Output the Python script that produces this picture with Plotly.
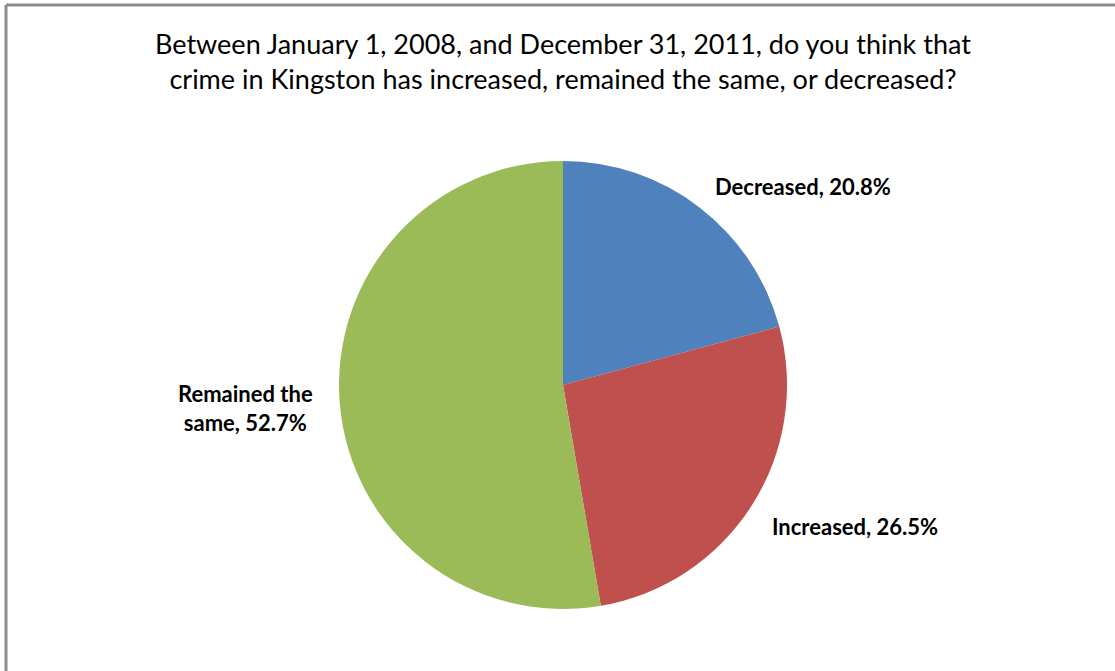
import plotly.graph_objects as go

# Survey responses
categories = ["Decreased", "Increased", "Remained the same"]
shares = [20.8, 26.5, 52.7]
colors = ["#4F81BD", "#C0504D", "#9BBB59"]

W, H = 1115, 671

fig = go.Figure(go.Pie(
    labels=categories,
    values=shares,
    sort=False,
    direction="clockwise",
    rotation=0,
    marker=dict(colors=colors, line=dict(width=0)),
    textinfo="none",
    hoverinfo="label+percent",
    showlegend=False,
    domain=dict(x=[339 / W, 787 / W], y=[62 / H, 510 / H]),
))

label_font = dict(family="Lato", size=22, color="#000000")
label_pos = {
    "Decreased": (803, 186),
    "Increased": (855, 526),
    "Remained the same": (245, 408),
}
label_text = {
    "Decreased": "<b>Decreased, {:.1f}%</b>",
    "Increased": "<b>Increased, {:.1f}%</b>",
    "Remained the same": "<b>Remained the<br>same, {:.1f}%</b>",
}
annotations = []
for cat, val in zip(categories, shares):
    px, py = label_pos[cat]
    annotations.append(dict(
        x=px / W, y=1 - py / H, xref="paper", yref="paper",
        text=label_text[cat].format(val), showarrow=False,
        font=label_font, align="center", xanchor="center", yanchor="middle",
    ))

annotations.append(dict(
    x=563 / W, y=1 - 61 / H, xref="paper", yref="paper",
    text="Between January 1, 2008, and December 31, 2011, do you think that<br>"
         "crime in Kingston has increased, remained the same, or decreased?",
    showarrow=False, align="center", xanchor="center", yanchor="middle",
    font=dict(family="Lato", size=27, color="#000000"),
))

# Chart frame (top and left edges)
frame = dict(color="#8C8C8C", width=3)
shapes = [
    dict(type="line", xref="paper", yref="paper",
         x0=6 / W, x1=1.0, y0=1 - 5 / H, y1=1 - 5 / H, line=frame),
    dict(type="line", xref="paper", yref="paper",
         x0=6 / W, x1=6 / W, y0=1 - 5 / H, y1=0, line=frame),
]

fig.update_layout(
    width=W, height=H,
    margin=dict(l=0, r=0, t=0, b=0),
    paper_bgcolor="#FFFFFF",
    plot_bgcolor="#FFFFFF",
    annotations=annotations,
    shapes=shapes,
)

fig.write_html("out.html")
